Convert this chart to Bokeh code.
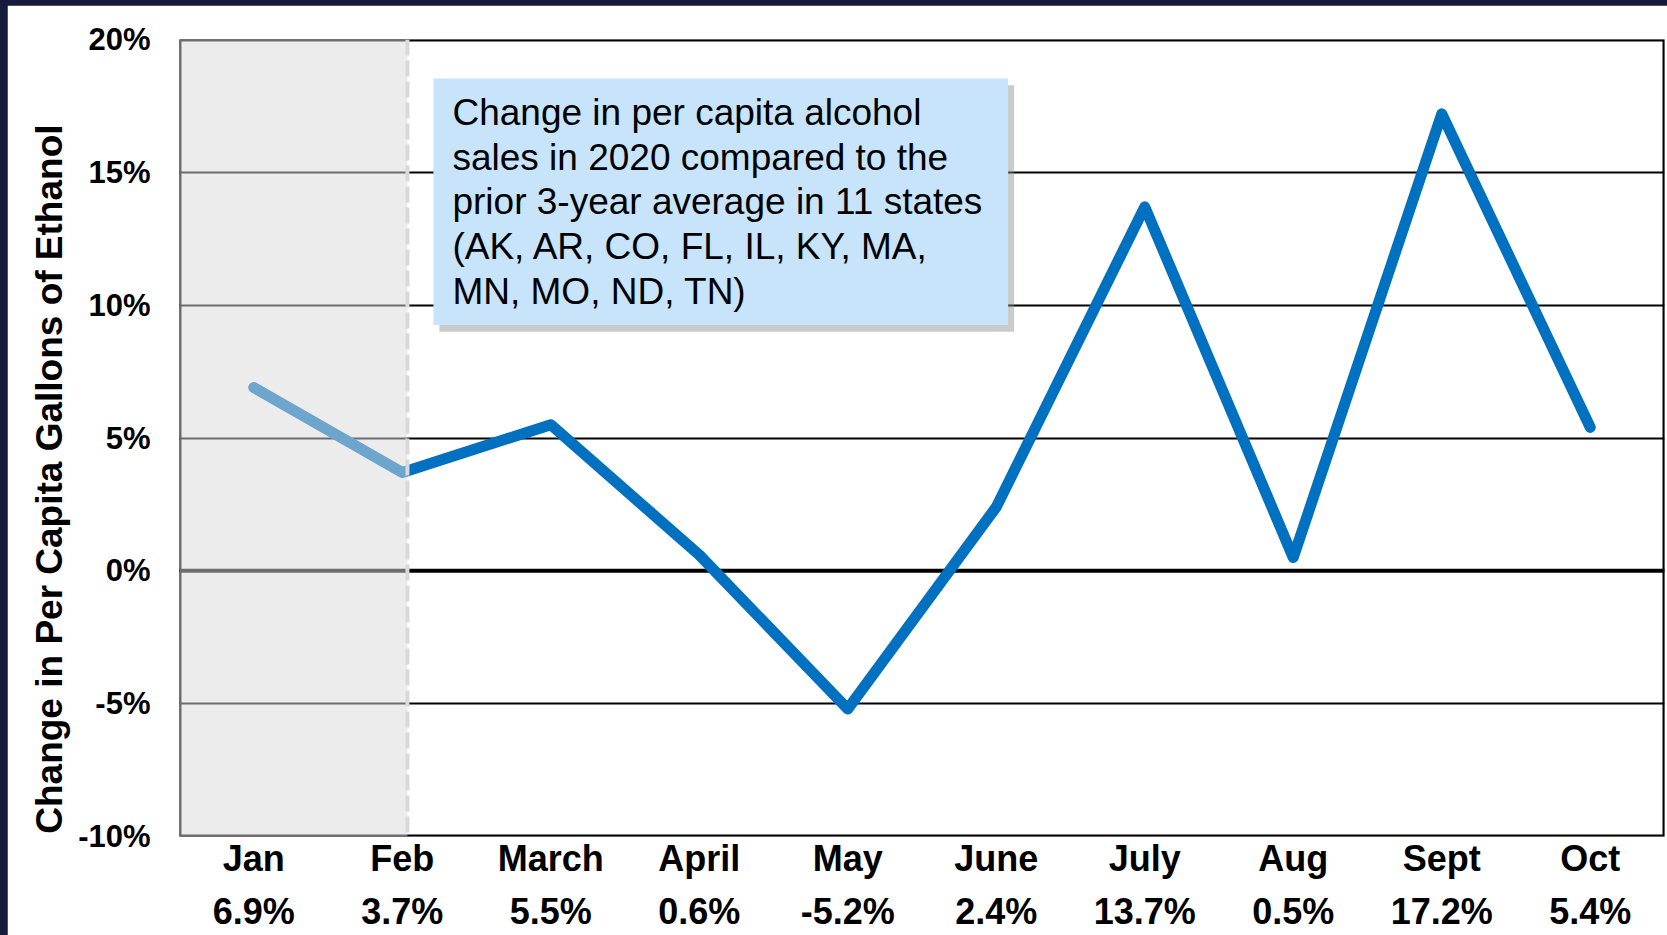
import numpy as np
from bokeh.plotting import figure
from bokeh.layouts import column
from bokeh.models import (ColumnDataSource, Range1d, FixedTicker, PrintfTickFormatter,
                          Span, BoxAnnotation, Label, LinearAxis)
from bokeh.embed import file_html
from bokeh.resources import INLINE

# ---------------- data ----------------
months = ["Jan", "Feb", "March", "April", "May", "June", "July", "Aug", "Sept", "Oct"]
change = [6.9, 3.7, 5.5, 0.6, -5.2, 2.4, 13.7, 0.5, 17.2, 5.4]
y_ticks = [-10, -5, 0, 5, 10, 15, 20]
y_title = "Change in Per Capita Gallons of Ethanol"
callout_lines = [
    "Change in per capita alcohol",
    "sales in 2020 compared to the",
    "prior 3-year average in 11 states",
    "(AK, AR, CO, FL, IL, KY, MA,",
    "MN, MO, ND, TN)",
]

FONT = "Liberation Sans"
x = list(range(len(months)))
pct = [f"{v:.1f}%" for v in change]
ymin, ymax = min(y_ticks), max(y_ticks)
xmin, xmax = -0.5, len(months) - 0.5

BORDER_T, BORDER_L = 5, 7
p = figure(width=1667 - BORDER_L, height=935 - BORDER_T,
           x_range=Range1d(xmin, xmax), y_range=Range1d(ymin, ymax),
           output_backend="svg", toolbar_location=None,
           min_border_left=179 - BORDER_L, min_border_right=3,
           min_border_top=39 - BORDER_T, min_border_bottom=99)
p.outline_line_color = None
p.background_fill_color = "white"
p.border_fill_color = "white"

# ---- x axes: month names and values ----
p.xaxis.ticker = FixedTicker(ticks=x)
p.xaxis.major_label_overrides = {i: m for i, m in zip(x, months)}
ax2 = LinearAxis(ticker=FixedTicker(ticks=x),
                 major_label_overrides={i: s for i, s in zip(x, pct)})
p.add_layout(ax2, "below")
for ax, so in ((p.xaxis[0], 1), (ax2, 9)):
    ax.axis_line_color = None
    ax.major_tick_line_color = None
    ax.minor_tick_line_color = None
    ax.major_tick_out = 0
    ax.major_label_standoff = so
    ax.major_label_text_font = FONT
    ax.major_label_text_font_style = "bold"
    ax.major_label_text_font_size = "36px"
    ax.major_label_text_color = "black"

# ---- y axis ----
p.xgrid.visible = False
p.ygrid.ticker = FixedTicker(ticks=y_ticks)
p.ygrid.grid_line_color = "black"
p.ygrid.grid_line_width = 2
p.yaxis.ticker = FixedTicker(ticks=y_ticks)
p.yaxis.formatter = PrintfTickFormatter(format="%d%%")
p.yaxis.axis_line_color = None
p.yaxis.major_tick_line_color = None
p.yaxis.minor_tick_line_color = None
p.yaxis.major_tick_out = 0
p.yaxis.major_label_text_font = FONT
p.yaxis.major_label_text_font_style = "bold"
p.yaxis.major_label_text_font_size = "31px"
p.yaxis.major_label_text_color = "black"
p.yaxis.major_label_standoff = 29
p.yaxis.axis_label = y_title + "\u00a0" * 8
p.yaxis.axis_label_text_font = FONT
p.yaxis.axis_label_text_font_style = "bold"
p.yaxis.axis_label_text_font_size = "37px"
p.yaxis.axis_label_text_color = "black"
p.yaxis.axis_label_standoff = 5

# zero line
p.segment(x0=[xmin], x1=[xmax], y0=[0], y1=[0], line_color="black", line_width=4)

# frame
p.quad(left=[xmin], right=[xmax], bottom=[ymin], top=[ymax],
       fill_color=None, line_color="black", line_width=4)

# series
src = ColumnDataSource(dict(x=x, y=change))
p.line("x", "y", source=src, line_color="#0070c0", line_width=11,
       line_join="round", line_cap="round")

# shaded (Jan-Feb) overlay
shade_right = 1.035
p.quad(left=[xmin], right=[shade_right], bottom=[ymin], top=[ymax],
       fill_color="#d9d9d9", fill_alpha=0.5, line_color=None)
p.add_layout(Span(location=shade_right, dimension="height", line_color="#d9d9d9",
                  line_width=4, line_dash="16 5"))

# callout box with shadow
bl, br, bt, bb = 1.21, 5.08, 18.53, 9.25
p.add_layout(BoxAnnotation(left=bl + 0.04, right=br + 0.04, top=bt - 0.25, bottom=bb - 0.25,
                           fill_color="#8c8c8c", fill_alpha=0.45, line_color=None))
p.add_layout(BoxAnnotation(left=bl, right=br, top=bt, bottom=bb,
                           fill_color="#c7e4fa", fill_alpha=1.0, line_color=None))
for i, t in enumerate(callout_lines):
    p.add_layout(Label(x=bl, y=bt, x_offset=19, y_offset=-(34 + 44.7 * i), text=t,
                       text_align="left", text_baseline="middle",
                       text_font=FONT, text_font_size="37px", text_color="black"))

layout = column(p, styles={"background-color": "#161a3d",
                           "padding-top": f"{BORDER_T}px", "padding-left": f"{BORDER_L}px"})

open("out.html", "w").write(file_html(layout, INLINE))
